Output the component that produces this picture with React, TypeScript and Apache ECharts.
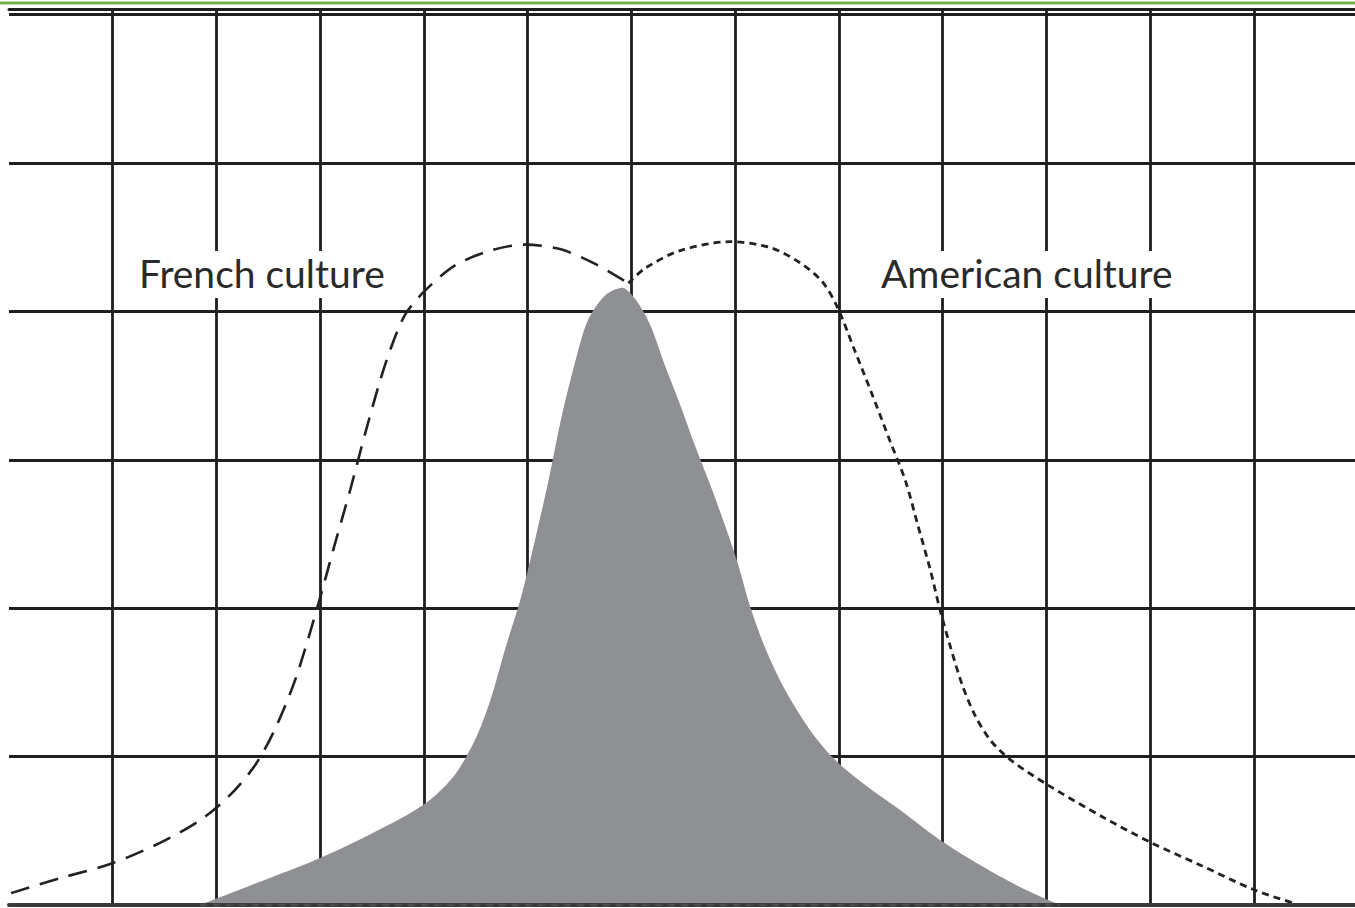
import React, { useEffect, useRef } from "react";
import * as echarts from "echarts";

// Horizontal positions are measured in grid columns, vertical ones in grid rows.
const frenchX = [0.02, 0.49, 0.99, 1.46, 1.84, 2.13, 2.37, 2.56, 2.76, 2.97, 3.14, 3.29, 3.43, 3.58, 3.69, 3.82, 4.01, 4.3, 4.64, 4.97, 5.31, 5.65, 5.97];
const frenchY = [0.08, 0.18, 0.28, 0.42, 0.57, 0.74, 0.94, 1.18, 1.52, 2.0, 2.43, 2.8, 3.17, 3.54, 3.77, 3.98, 4.14, 4.31, 4.41, 4.45, 4.42, 4.32, 4.19];

const americanX = [5.97, 6.13, 6.47, 6.95, 7.34, 7.62, 7.84, 7.99, 8.15, 8.32, 8.49, 8.64, 8.76, 8.88, 8.97, 9.07, 9.19, 9.31, 9.46, 9.65, 10.01, 10.55, 11.01, 11.48, 12.01, 12.44];
const americanY = [4.19, 4.29, 4.41, 4.47, 4.43, 4.33, 4.2, 4.02, 3.74, 3.44, 3.13, 2.86, 2.56, 2.26, 2.0, 1.75, 1.48, 1.28, 1.11, 0.98, 0.81, 0.59, 0.42, 0.27, 0.1, 0.0];

const sharedX = [1.84, 2.32, 3.01, 3.74, 4.06, 4.3, 4.49, 4.64, 4.78, 4.93, 5.07, 5.2, 5.32, 5.45, 5.58, 5.75, 5.91, 6.04, 6.18, 6.32, 6.47, 6.61, 6.76, 6.9, 7.03, 7.14, 7.29, 7.48, 7.72, 7.96, 8.25, 8.59, 8.97, 9.36, 9.75, 10.13];
const sharedY = [0.0, 0.13, 0.32, 0.57, 0.71, 0.88, 1.11, 1.38, 1.72, 2.06, 2.46, 2.86, 3.27, 3.64, 3.94, 4.11, 4.16, 4.08, 3.91, 3.64, 3.37, 3.1, 2.83, 2.56, 2.29, 2.02, 1.73, 1.45, 1.18, 0.98, 0.81, 0.64, 0.44, 0.27, 0.12, 0.0];

const labels = ["French culture", "American culture"];

const COLUMNS_MAX = 12.974;
const ROWS_MAX = 6.038;

const pairs = (xs: number[], ys: number[]) => xs.map((x, i) => [x, ys[i]]);

export default function App() {
  const ref = useRef<HTMLDivElement>(null);

  useEffect(() => {
    if (!ref.current) return;
    const chart = echarts.init(ref.current, null, { renderer: "svg" });
    const ink = "#1f1f1f";
    const labelFont = "Lato, 'Open Sans', sans-serif";

    chart.setOption({
      animation: false,
      backgroundColor: "#ffffff",
      grid: { left: 9, right: 0, top: 9, bottom: 3, containLabel: false },
      xAxis: [
        {
          type: "value",
          position: "bottom",
          min: 0,
          max: COLUMNS_MAX,
          interval: 1,
          z: 5,
          axisLine: { show: true, onZero: false, lineStyle: { color: "#3a3a3a", width: 4 } },
          axisTick: { show: false },
          axisLabel: { show: false },
          splitLine: { show: false },
        },
        {
          type: "value",
          position: "top",
          min: 0,
          max: COLUMNS_MAX,
          interval: 1,
          axisLine: { show: true, onZero: false, lineStyle: { color: ink, width: 3 } },
          axisTick: { show: false },
          axisLabel: { show: false },
          splitLine: {
            show: true,
            showMinLine: false,
            showMaxLine: false,
            lineStyle: { color: ink, width: 2.8 },
          },
        },
      ],
      yAxis: {
        type: "value",
        min: 0,
        max: ROWS_MAX,
        interval: 1,
        axisLine: { show: false },
        axisTick: { show: false },
        axisLabel: { show: false },
        splitLine: {
          show: true,
          showMinLine: false,
          showMaxLine: false,
          lineStyle: { color: ink, width: 2.8 },
        },
      },
      series: [
        {
          name: "shared",
          type: "line",
          xAxisIndex: 0,
          data: pairs(sharedX, sharedY),
          smooth: 0.3,
          symbol: "none",
          lineStyle: { width: 0 },
          areaStyle: { color: "#8f9094", opacity: 1 },
          z: 2,
        },
        {
          name: "shared edge",
          type: "line",
          xAxisIndex: 0,
          data: [
            [sharedX[0], 0],
            [sharedX[sharedX.length - 1], 0],
          ],
          symbol: "none",
          lineStyle: { color: "#4d4d4f", width: 3, type: [7, 6] },
          z: 6,
        },
        {
          name: labels[0],
          type: "line",
          xAxisIndex: 0,
          data: pairs(frenchX, frenchY),
          smooth: 0.3,
          symbol: "none",
          lineStyle: { color: "#222222", width: 2.6, type: [19, 11] },
          z: 4,
        },
        {
          name: labels[1],
          type: "line",
          xAxisIndex: 0,
          data: pairs(americanX, americanY),
          smooth: 0.3,
          symbol: "none",
          lineStyle: { color: "#222222", width: 2.8, type: [7, 5] },
          z: 4,
        },
      ],
      graphic: [
        { type: "rect", z: 100, shape: { x: 0, y: 1.5, width: 1355, height: 3 }, style: { fill: "#74b04c" } },
        { type: "rect", z: 100, shape: { x: 128, y: 251, width: 272, height: 47 }, style: { fill: "#ffffff" } },
        {
          type: "text",
          z: 101,
          x: 139,
          y: 273,
          style: { text: labels[0], font: `39px ${labelFont}`, fill: "#2a2a2a", textVerticalAlign: "middle", verticalAlign: "middle" },
        },
        { type: "rect", z: 100, shape: { x: 870, y: 251, width: 320, height: 47 }, style: { fill: "#ffffff" } },
        {
          type: "text",
          z: 101,
          x: 881,
          y: 273,
          style: { text: labels[1], font: `39px ${labelFont}`, fill: "#2a2a2a", textVerticalAlign: "middle", verticalAlign: "middle" },
        },
      ],
    });

    return () => chart.dispose();
  }, []);

  return (
    <div
      ref={ref}
      style={{ position: "absolute", left: 0, top: 0, width: 1355, height: 908, background: "#ffffff" }}
    />
  );
}
